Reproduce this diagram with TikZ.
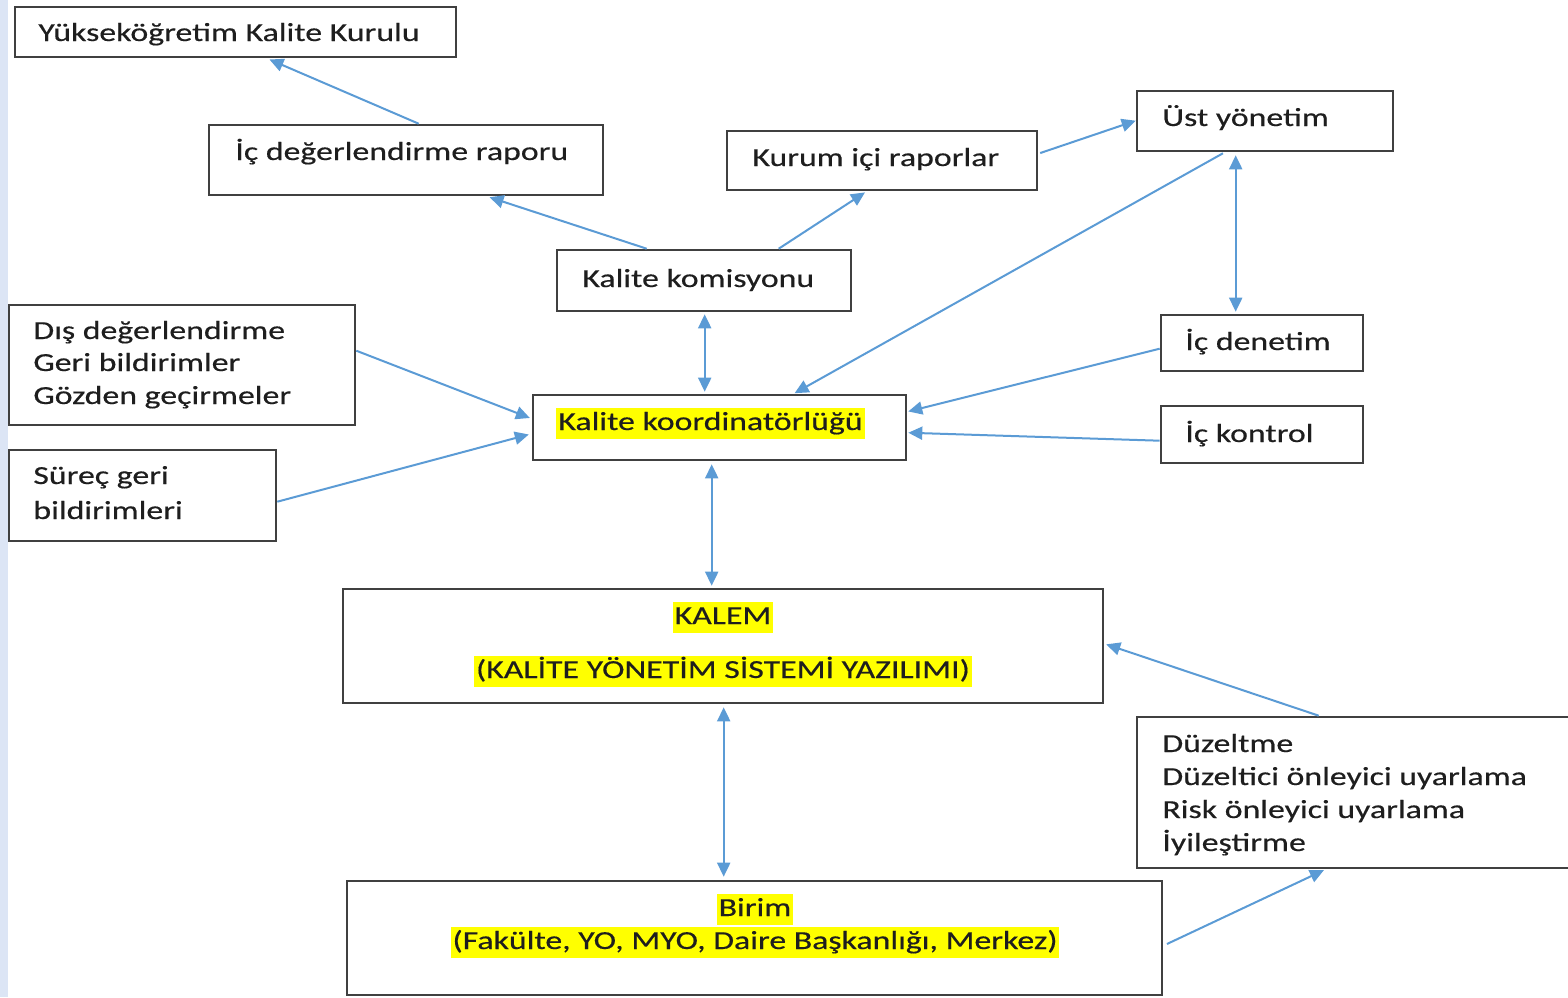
\documentclass[tikz,border=0pt]{standalone}
\usepackage{fontspec}
\setmainfont{Carlito}[FakeStretch=1.30,FakeBold=0.4]
\usetikzlibrary{arrows.meta,fit}
\definecolor{arrowblue}{HTML}{5B9BD5}
\definecolor{boxgray}{HTML}{404040}
\definecolor{strip}{HTML}{DCE5F5}
\definecolor{txt}{HTML}{1E1E1E}
\definecolor{hl}{HTML}{FFFF00}
\tikzset{
  box/.style={draw=boxgray, line width=1.3pt, inner sep=0pt, fill=white},
  lbl/.style={anchor=base west, inner sep=0pt, text=txt, font=\fontsize{13pt}{16pt}\selectfont},
  clbl/.style={anchor=base, inner sep=0pt, text=txt, font=\fontsize{13pt}{16pt}\selectfont},
  hlbl/.style={fill=hl, inner xsep=1pt, inner ysep=0pt, text height=11pt, text depth=4.5pt, text=txt, font=\fontsize{13pt}{16pt}\selectfont},
  conn/.style={draw=arrowblue, line width=1pt, -{Triangle[length=7pt,width=6.5pt]}},
  dconn/.style={draw=arrowblue, line width=1pt, {Triangle[length=7pt,width=6.5pt]}-{Triangle[length=7pt,width=6.5pt]}}
}
\begin{document}
\begin{tikzpicture}[x=0.5pt,y=-0.5pt]
\useasboundingbox (0,0) rectangle (1568,997);
\clip (0,0) rectangle (1568,997);
\fill[strip] (0,0) rectangle (8,997);
% boxes
\node[box, fit={(15,7) (456,57)}] (ykk) {};
\node[box, fit={(209,125) (603,195)}] (ideg) {};
\node[box, fit={(727,131) (1037,190)}] (kurum) {};
\node[box, fit={(1137,91) (1393,151)}] (ust) {};
\node[box, fit={(557,250) (851,311)}] (kom) {};
\node[box, fit={(9,305) (355,425)}] (dis) {};
\node[box, fit={(9,450) (276,541)}] (surec) {};
\node[box, fit={(533,395) (906,460)}] (koord) {};
\node[box, fit={(1161,315) (1363,371)}] (iden) {};
\node[box, fit={(1161,406) (1363,463)}] (ikon) {};
\node[box, fit={(343,589) (1103,703)}] (kalem) {};
\node[box, fit={(1137,717) (1590,868)}] (duz) {};
\node[box, fit={(347,881) (1162,995)}] (birim) {};
% texts
\node[lbl] (tykk) at (38,41) {Yükseköğretim Kalite Kurulu};
\node[lbl] (tideg) at (235,160) {İç değerlendirme raporu};
\node[lbl] (tkurum) at (752,166) {Kurum içi raporlar};
\node[lbl] (tust) at (1162,126) {Üst yönetim};
\node[lbl] (tkom) at (582,287) {Kalite komisyonu};
\node[lbl] (tdisa) at (33,339) {Dış değerlendirme};
\node[lbl] (tdisb) at (33,371) {Geri bildirimler};
\node[lbl] (tdisc) at (33,404) {Gözden geçirmeler};
\node[lbl] (tsureca) at (33,484) {Süreç geri};
\node[lbl] (tsurecb) at (33,519) {bildirimleri};
\node[hlbl, anchor=base west] (tkoord) at (556,430) {Kalite koordinatörlüğü};
\node[lbl] (tiden) at (1185,350) {İç denetim};
\node[lbl] (tikon) at (1185,442) {İç kontrol};
\node[hlbl, anchor=base] (tkalema) at (723,624) {KALEM};
\node[hlbl, anchor=base] (tkalemb) at (723,678) {(KALİTE YÖNETİM SİSTEMİ YAZILIMI)};
\node[lbl] (tduza) at (1162,752) {Düzeltme};
\node[lbl] (tduzb) at (1162,785) {Düzeltici önleyici uyarlama};
\node[lbl] (tduzc) at (1162,818) {Risk önleyici uyarlama};
\node[lbl] (tduzd) at (1162,851) {İyileştirme};
\node[hlbl, anchor=base] (tbirima) at (755,916) {Birim};
\node[hlbl, anchor=base] (tbirimb) at (755,949) {(Fakülte, YO, MYO, Daire Başkanlığı, Merkez)};
% connectors
\draw[conn, shorten >=1.5pt] ([xshift=105.5pt]ideg.north west) -- ([xshift=126.5pt]ykk.south west);
\draw[conn, shorten >=1.5pt] ([xshift=45.5pt]kom.north west) -- ([xshift=139.5pt]ideg.south west);
\draw[conn, shorten >=1pt] ([xshift=111.5pt]kom.north west) -- ([xshift=70.5pt]kurum.south west);
\draw[conn, shorten <=1pt] ([yshift=-12pt]kurum.north east) -- ([yshift=-15.5pt]ust.north west);
\draw[conn, shorten <=1pt, shorten >=0.5pt] ([xshift=44.5pt]ust.south west) -- ([xshift=131pt]koord.north west);
\draw[dconn, shorten <=1.5pt, shorten >=1pt] ([xshift=50pt]ust.south west) -- ([xshift=38pt]iden.north west);
\draw[dconn, shorten <=1pt, shorten >=1pt] ([xshift=74.5pt]kom.south west) -- ([xshift=86.5pt]koord.north west);
\draw[conn, shorten >=1pt] ([yshift=-23.5pt]dis.north east) -- ([yshift=-12.5pt]koord.north west);
\draw[conn, shorten >=1.5pt] ([yshift=-26.5pt]surec.north east) -- ([yshift=-20pt]koord.north west);
\draw[conn, shorten >=0.5pt] ([yshift=-17.5pt]iden.north west) -- ([yshift=-9pt]koord.north east);
\draw[conn, shorten >=0.5pt] ([yshift=-18pt]ikon.north west) -- ([yshift=-19.5pt]koord.north east);
\draw[dconn, shorten <=1.5pt, shorten >=1pt] ([xshift=90pt]koord.south west) -- ([xshift=185pt]kalem.north west);
\draw[dconn, shorten <=1.5pt, shorten >=1.5pt] ([xshift=191pt]kalem.south west) -- ([xshift=189pt]birim.north west);
\draw[conn, shorten >=1pt] ([xshift=91.5pt]duz.north west) -- ([yshift=-28pt]kalem.north east);
\draw[conn, shorten <=2pt, shorten >=1pt] ([yshift=-33pt]birim.north east) -- ([xshift=95pt]duz.south west);
\end{tikzpicture}
\end{document}
